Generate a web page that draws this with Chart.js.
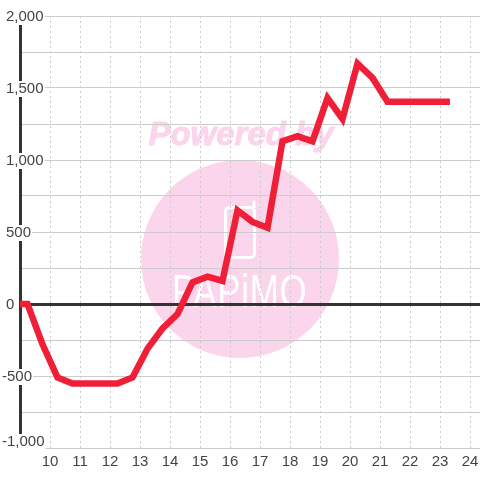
<!DOCTYPE html>
<html>
<head>
<meta charset="utf-8">
<script src="https://cdn.jsdelivr.net/npm/chart.js@4"></script>
<style>
  html, body { margin: 0; padding: 0; background: #fff; }
  #chart { display: block; }
</style>
</head>
<body>
<canvas id="chart" width="480" height="480"></canvas>
<script>
const hours = [8.9, 9.25, 9.75, 10.25, 10.75, 11.25, 11.75, 12.25, 12.75, 13.25, 13.75, 14.25, 14.75, 15.25, 15.75,
  16.25, 16.75, 17.25, 17.75, 18.25, 18.75, 19.25, 19.75, 20.25, 20.75, 21.25, 21.75, 22.25, 22.75, 23.33];
const profit = [0, 0, -280, -510, -552, -552, -552, -552, -510, -310, -170, -70, 150, 190, 160,
  650, 570, 530, 1130, 1165, 1130, 1430, 1285, 1670, 1570, 1405, 1405, 1405, 1405, 1405];
const positiveLabels = [0, 500, 1000, 1500, 2000];
const negativeLabels = [-500];
const bottomLabels = [-1000];

const labelFont = { family: '"Liberation Sans", Arial, sans-serif', size: 15 };
const labelColor = '#444';

// the pale "Powered by" stamp sits under the grid
const watermark = {
  id: 'watermark',
  beforeDraw(chart) {
    const ctx = chart.ctx;
    ctx.save();
    ctx.fillStyle = '#fbd5ec';
    ctx.strokeStyle = '#fbd5ec';
    ctx.beginPath();
    ctx.arc(240, 259, 99, 0, Math.PI * 2);
    ctx.fill();
    ctx.font = 'italic bold 33px "Liberation Sans", Arial, sans-serif';
    ctx.textAlign = 'center';
    ctx.textBaseline = 'alphabetic';
    ctx.lineWidth = 1;
    ctx.fillText('Powered by', 241, 145);
    ctx.strokeText('Powered by', 241, 145);

    ctx.strokeStyle = '#fff';
    ctx.lineWidth = 3;
    ctx.lineCap = 'round';
    ctx.beginPath();
    ctx.roundRect(225.5, 207.5, 29, 50, 4);
    ctx.moveTo(254, 207);
    ctx.lineTo(254, 202);
    ctx.stroke();
    ctx.fillStyle = '#fff';
    ctx.font = '47px "Liberation Sans", Arial, sans-serif';
    ctx.letterSpacing = '1px';
    ctx.textAlign = 'left';
    ctx.translate(172, 307);
    ctx.scale(0.74, 1);
    ctx.fillText('PAPiMO', 0, 0);
    ctx.restore();
  }
};

// labels sit on top of the axis line, and the minus signs and the bottom label
// are nudged, so each group of labels gets its own zero-width axis
function labelTicks(values, padding, labelOffset) {
  return {
    stepSize: 250,
    z: 1,
    mirror: true,
    crossAlign: 'near',
    padding: padding,
    labelOffset: labelOffset,
    color: labelColor,
    font: labelFont,
    showLabelBackdrop: c => values.includes(c.tick.value) && c.tick.value !== 0,
    backdropColor: '#fff',
    backdropPadding: { top: -1, bottom: -1, left: 0, right: 1 },
    callback: v => (values.includes(v) ? v.toLocaleString('en-US') : '')
  };
}

function labelAxis(values, padding, labelOffset) {
  return {
    position: 'left',
    min: -1000,
    max: 2000,
    weight: 1,
    afterFit(scale) { scale.width = 0; },
    border: { display: false },
    grid: { display: false, drawTicks: false },
    ticks: labelTicks(values, padding, labelOffset)
  };
}

new Chart(document.getElementById('chart'), {
  type: 'line',
  data: {
    datasets: [{
      data: hours.map((h, i) => ({ x: h, y: profit[i] })),
      borderColor: '#f01f38',
      borderWidth: 6.5,
      pointRadius: 0,
      tension: 0,
      borderCapStyle: 'butt',
      borderJoinStyle: 'miter',
      yAxisID: 'y'
    }]
  },
  options: {
    responsive: false,
    animation: false,
    events: [],
    layout: { padding: { top: 16, right: 0, bottom: 0, left: 0 } },
    plugins: { legend: { display: false }, title: { display: false }, tooltip: { enabled: false } },
    scales: {
      x: {
        type: 'linear',
        min: 9,
        max: 24.333,
        afterFit(scale) {
          scale.height = 32;
          scale.paddingLeft = 0;
          scale.paddingRight = 0;
        },
        border: { display: false, dash: [2, 3] },
        grid: { color: '#ccc', lineWidth: 1, drawTicks: false },
        ticks: {
          stepSize: 1,
          includeBounds: false,
          maxRotation: 0,
          autoSkip: false,
          padding: 5,
          color: labelColor,
          font: labelFont,
          callback: v => (v >= 10 ? String(v) : '')
        }
      },
      y: {
        position: 'left',
        min: -1000,
        max: 2000,
        afterFit(scale) { scale.width = 20; },
        border: { display: true, color: '#333', width: 3 },
        grid: {
          color: c => (c.tick && c.tick.value === 0 ? '#333' : '#ccc'),
          lineWidth: c => (c.tick && c.tick.value === 0 ? 3 : 1),
          drawTicks: false
        },
        ticks: labelTicks(positiveLabels, -14, 1)
      },
      yNeg: labelAxis(negativeLabels, 2, 1),
      yBottom: labelAxis(bottomLabels, 2, -6)
    }
  },
  plugins: [watermark]
});
</script>
</body>
</html>
